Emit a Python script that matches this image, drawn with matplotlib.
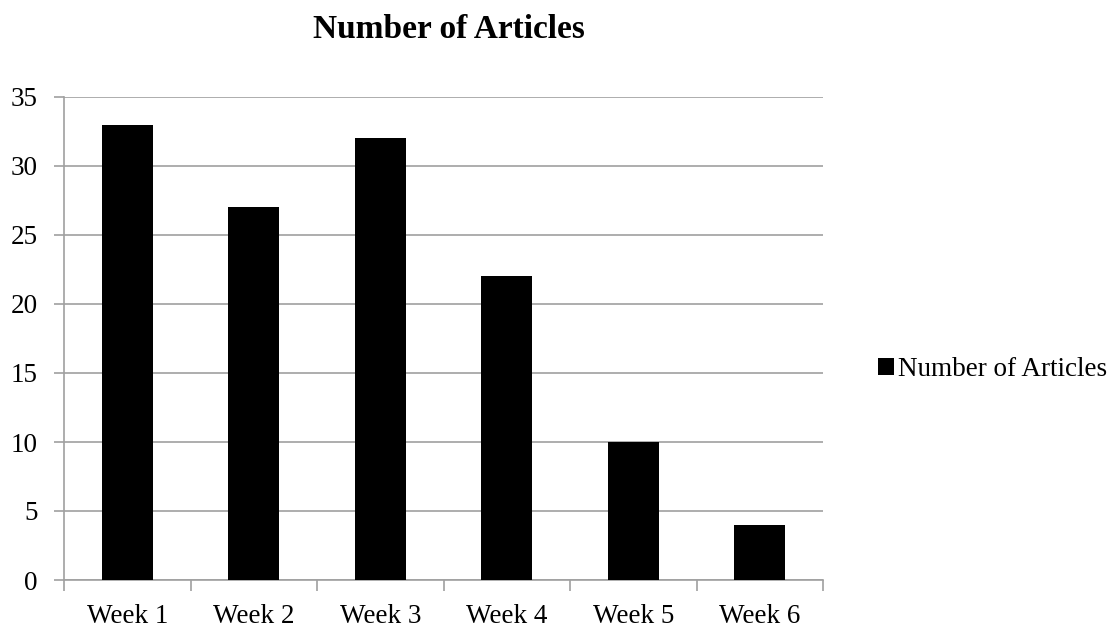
import matplotlib
matplotlib.use("Agg")
import matplotlib.pyplot as plt
from matplotlib.patches import Patch

weeks = ["Week 1", "Week 2", "Week 3", "Week 4", "Week 5", "Week 6"]
articles = [33, 27, 32, 22, 10, 4]
yticks = [0, 5, 10, 15, 20, 25, 30, 35]

plt.rcParams["font.family"] = ["Liberation Serif", "DejaVu Serif"]

fig = plt.figure(figsize=(11.19, 6.3), dpi=100)
ax = fig.add_axes([64 / 1119, 50 / 630, (823 - 64) / 1119, (580 - 97) / 630])

x = range(len(weeks))
ax.bar(x, articles, width=0.4, color="black", zorder=3)

ax.set_xlim(-0.5, len(weeks) - 0.5)
ax.set_ylim(0, 35)
ax.set_yticks(yticks)
ax.set_yticklabels([str(v) for v in yticks], fontsize=19.5)
ax.set_xticks(list(x))
ax.set_xticklabels(weeks, fontsize=19.5)
ax.set_xticks([i - 0.5 for i in range(len(weeks) + 1)], minor=True)

ax.grid(axis="y", color="#a0a0a0", linewidth=1.2, zorder=0)
for s in ["top", "right"]:
    ax.spines[s].set_visible(False)
for s in ["left", "bottom"]:
    ax.spines[s].set_color("#a0a0a0")
    ax.spines[s].set_linewidth(1.2)

ax.tick_params(axis="x", which="major", length=0, pad=17)
ax.tick_params(axis="x", which="minor", length=8, color="#a0a0a0", width=1.2)
ax.tick_params(axis="y", length=7, color="#a0a0a0", width=1.2, pad=12)

fig.text(449 / 1119, 1 - 30 / 630, "Number of Articles", ha="center", va="center",
         fontsize=24, fontweight="bold")

ax.legend(handles=[Patch(facecolor="black", label="Number of Articles")],
          loc="center left", bbox_to_anchor=(1.04, 0.435), frameon=False,
          fontsize=19.5, handlelength=0.6, handleheight=0.6, handletextpad=0.15)

fig.savefig("out.png", dpi=100)
